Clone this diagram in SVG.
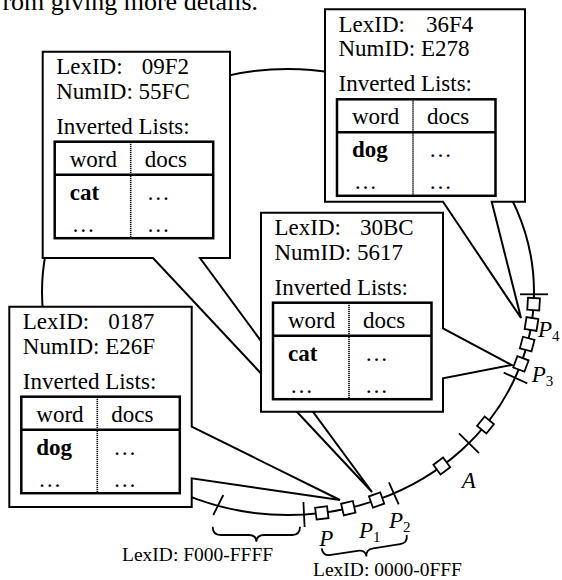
<svg xmlns="http://www.w3.org/2000/svg" width="562" height="580" viewBox="0 0 562 580">
<style>
.t{font-family:"Liberation Serif","Times New Roman",serif;font-size:23px;fill:#000}
.b{font-weight:bold}
.box{fill:#fff;stroke:#000;stroke-width:2;stroke-linejoin:miter}
.tbl{fill:none;stroke:#000;stroke-width:2.5}
.hl{stroke:#000;stroke-width:2.5}
.dv{stroke:#000;stroke-width:1.6;stroke-dasharray:1.2 0.8}
.ring{fill:none;stroke:#000;stroke-width:2}
.tick{stroke:#000;stroke-width:1.8;fill:none}
.peer{fill:#fff;stroke:#000;stroke-width:1.8}
.lbl{font-family:"Liberation Serif","Times New Roman",serif;font-size:19.5px;fill:#000}
.it{font-family:"Liberation Serif","Times New Roman",serif;font-size:23px;font-style:italic;fill:#000}
.sub{font-style:normal;font-size:15px}
.brace{fill:none;stroke:#000;stroke-width:1.8}
</style>
<defs>
<g id="table">
<rect class="tbl" x="12" y="90" width="158.5" height="96.5"/>
<line class="hl" x1="12" y1="123" x2="170.5" y2="123"/>
<line class="dv" x1="88" y1="90" x2="88" y2="186.5"/>
<text class="t" x="27" y="115">word</text>
<text class="t" x="102" y="115">docs</text>
<text class="t" x="104" y="148">…</text>
<text class="t" x="29" y="180">…</text>
<text class="t" x="104" y="180">…</text>
<text class="t" x="13.5" y="82">Inverted Lists:</text>
</g>
<rect id="sq" class="peer" x="-6" y="-6" width="12" height="12"/>
</defs>

<text class="t" x="258" y="10" text-anchor="end" style="font-size:26px">rom giving more details.</text>

<g id="connectors">
<ellipse class="ring" cx="288" cy="292" rx="246" ry="223"/>
</g>

<g id="node-09F2" transform="translate(42.7,51.7)">
<path class="box" d="M0,0 H187.3 V206.3 H157.3 L329.3,440.3 L110.3,206.3 H0 Z"/>
<text class="t" x="13.5" y="22.5">LexID:</text>
<text class="t" x="99" y="22.5">09F2</text>
<text class="t" x="13.5" y="47">NumID: 55FC</text>
<use href="#table"/>
<text class="t b" x="27" y="148">cat</text>
</g>

<g id="node-36F4" transform="translate(325,9.3)">
<path class="box" d="M0,0 H200 V192.4 H166.7 L196,308.7 L118,192.4 H0 Z"/>
<text class="t" x="13.5" y="22.5">LexID:</text>
<text class="t" x="101" y="22.5">36F4</text>
<text class="t" x="13.5" y="47">NumID: E278</text>
<use href="#table"/>
<text class="t b" x="27" y="148">dog</text>
</g>

<g id="node-0187" transform="translate(9.3,306.7)">
<path class="box" d="M0,0 H182.4 V120 L330.7,193.3 L182.4,171.6 V200.3 H0 Z"/>
<text class="t" x="13.5" y="22.5">LexID:</text>
<text class="t" x="99" y="22.5">0187</text>
<text class="t" x="13.5" y="47">NumID: E26F</text>
<use href="#table"/>
<text class="t b" x="27" y="148">dog</text>
</g>

<g id="node-30BC" transform="translate(261,212.7)">
<path class="box" d="M0,0 H182 V115.6 L250.7,152.3 L182,165.6 V199 H0 Z"/>
<text class="t" x="13.5" y="22.5">LexID:</text>
<text class="t" x="99" y="22.5">30BC</text>
<text class="t" x="13.5" y="47">NumID: 5617</text>
<use href="#table"/>
<text class="t b" x="27" y="148">cat</text>
</g>

<g id="ticks">
<line class="tick" x1="520" y1="294.3" x2="548" y2="294.3"/>
<line class="tick" x1="503.7" y1="372.6" x2="527.3" y2="383.4"/>
<line class="tick" x1="459" y1="433.3" x2="479" y2="453.2"/>
<line class="tick" x1="388.9" y1="482.3" x2="398.7" y2="504.3"/>
<line class="tick" x1="303.4" y1="502" x2="304.6" y2="527"/>
<line class="tick" x1="223.3" y1="495" x2="213.3" y2="515"/>
</g>

<g id="peers">
<use href="#sq" transform="translate(533.6,304.1) rotate(3.4)"/>
<use href="#sq" transform="translate(531.5,324) rotate(9)"/>
<use href="#sq" transform="translate(527.2,344.1) rotate(14.8)"/>
<use href="#sq" transform="translate(520.9,363.9) rotate(20.5)"/>
<use href="#sq" transform="translate(485.5,425) rotate(39.2)"/>
<use href="#sq" transform="translate(441.8,466) rotate(53.9)"/>
<use href="#sq" transform="translate(376.6,500) rotate(-19.4)"/>
<use href="#sq" transform="translate(348.3,508.2) rotate(-13)"/>
<use href="#sq" transform="translate(321.8,512.9) rotate(-7.2)"/>
</g>

<g id="labels">
<text class="it" x="538" y="337">P<tspan class="sub" dy="4">4</tspan></text>
<text class="it" x="531.7" y="382">P<tspan class="sub" dy="4">3</tspan></text>
<text class="it" x="461.7" y="488">A</text>
<text class="it" x="319.3" y="546">P</text>
<text class="it" x="359" y="538">P<tspan class="sub" dy="4">1</tspan></text>
<text class="it" x="389" y="528">P<tspan class="sub" dy="4">2</tspan></text>
<path class="brace" d="M212.7,526.7 Q212.7,535 220.7,535 H248.4 Q256.4,535 256.4,541.7 Q256.4,535 264.4,535 H292 Q300,535 300,526.7"/>
<path class="brace" transform="translate(321.7,548.3) rotate(-8.9)" d="M0,0 Q0,8 8,8 H35 Q43,8 43,15 Q43,8 51,8 H78 Q86,8 86,0"/>
<text class="lbl" x="122" y="561">LexID: F000-FFFF</text>
<text class="lbl" x="313" y="576">LexID: 0000-0FFF</text>
</g>
</svg>
